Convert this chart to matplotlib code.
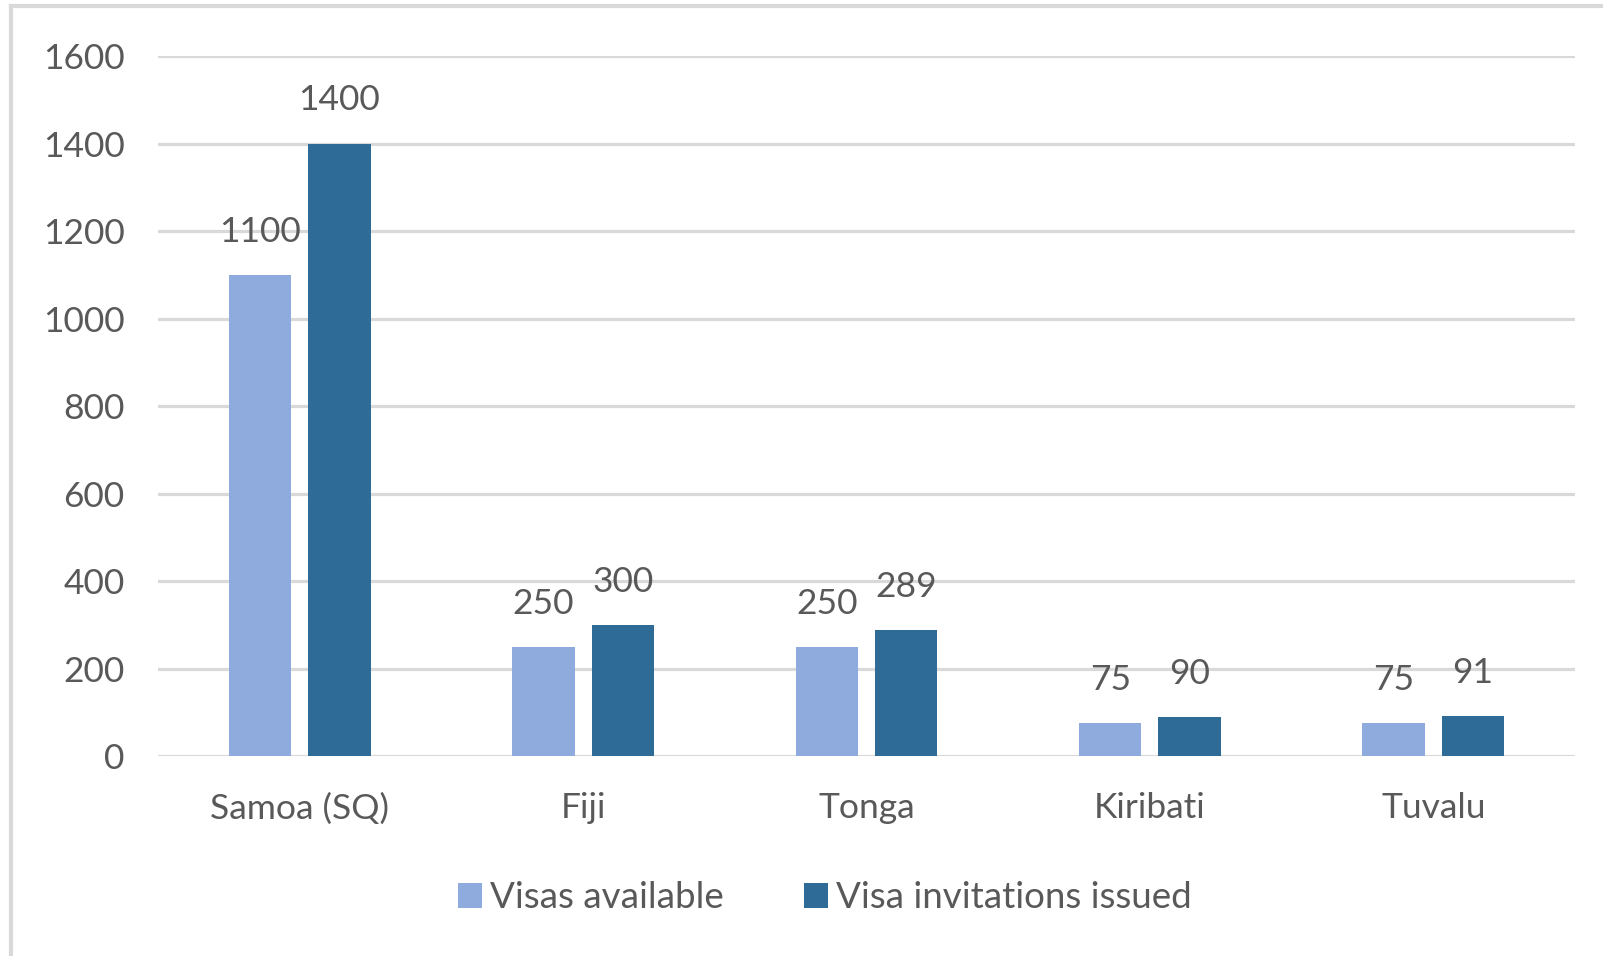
import matplotlib.pyplot as plt
import numpy as np
from matplotlib.lines import Line2D

countries = ['Samoa (SQ)', 'Fiji', 'Tonga', 'Kiribati', 'Tuvalu']
visas_available = [1100, 250, 250, 75, 75]
invitations_issued = [1400, 300, 289, 90, 91]
yticks = [0, 200, 400, 600, 800, 1000, 1200, 1400, 1600]

light = '#8FAADC'
dark = '#2E6C97'
txt = '#595959'

plt.rcParams['font.family'] = ['Lato', 'DejaVu Sans']

fig = plt.figure(figsize=(16.03, 9.56), dpi=100)
ax = fig.add_axes([0.0986, 0.2092, 0.8839, 0.7322])

x = np.arange(len(countries))
w = 0.22
b1 = ax.bar(x - 0.14, visas_available, w, color=light, label='Visas available', zorder=3)
b2 = ax.bar(x + 0.14, invitations_issued, w, color=dark, label='Visa invitations issued', zorder=3)

for bars in (b1, b2):
    for r in bars:
        ax.annotate(str(int(r.get_height())), (r.get_x() + r.get_width() / 2, r.get_height()),
                    xytext=(0, 31), textcoords='offset points', ha='center', va='center',
                    fontsize=25.5, color=txt, zorder=4)

ax.set_xlim(-0.5, 4.5)
ax.set_ylim(0, 1600)
ax.set_yticks(yticks)
ax.set_xticks(x)
ax.set_xticklabels(countries)
ax.yaxis.grid(True, color='#D9D9D9', linewidth=2.3, zorder=0)
ax.tick_params(axis='both', length=0, labelsize=25.5, labelcolor=txt)
ax.tick_params(axis='y', pad=24)
ax.tick_params(axis='x', pad=26)
for s in ax.spines.values():
    s.set_visible(False)

fig.legend(loc='center', bbox_to_anchor=(825 / 1603, 1 - 898 / 956), ncol=2, frameon=False,
           fontsize=26.5, labelcolor=txt, handlelength=0.65, handleheight=0.65,
           handletextpad=0.2, columnspacing=2.2)

# outer frame (top and left edges only)
fig.add_artist(Line2D([11 / 1603, 1], [1 - 6 / 956, 1 - 6 / 956], color='#D9D9D9', linewidth=3,
                      transform=fig.transFigure))
fig.add_artist(Line2D([11 / 1603, 11 / 1603], [0, 1 - 6 / 956], color='#D9D9D9', linewidth=3,
                      transform=fig.transFigure))

fig.savefig('out.png', dpi=100)
